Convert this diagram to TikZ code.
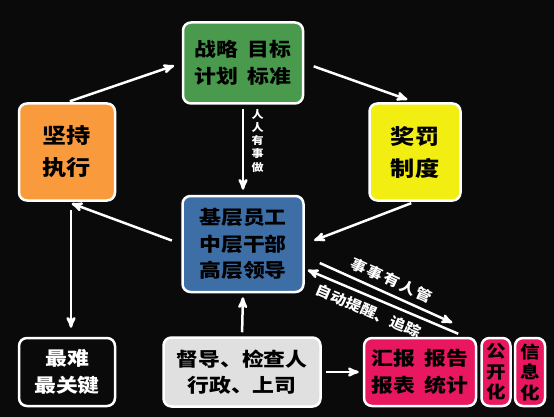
\documentclass[tikz,border=0pt]{standalone}
\usepackage{fontspec}
\usepackage{tikz}
\usetikzlibrary{arrows, positioning}
\newfontfamily\cjk{Noto Sans CJK SC}[FakeStretch=1.15]
\definecolor{bggray}{HTML}{0A0A0A}
\definecolor{boxgreen}{HTML}{4A9A4E}
\definecolor{boxorange}{HTML}{F99A3C}
\definecolor{boxyellow}{HTML}{F2EE12}
\definecolor{boxblue}{HTML}{3D6FA6}
\definecolor{boxpink}{HTML}{E8175F}
\definecolor{boxgrey}{HTML}{E0E0E0}
\tikzset{
		box/.style={draw=white, line width=2.5pt, rounded corners=8pt, align=center, inner sep=0pt, text=black},
		big text/.style={font=\cjk\bfseries\fontsize{21}{32}\selectfont},
		mid text/.style={font=\cjk\bfseries\fontsize{19}{26.5}\selectfont},
		slim text/.style={font=\cjk\bfseries\fontsize{17}{20.5}\selectfont},
		flow/.style={->, color=white, line width=2.5pt},
		flow label/.style={text=white, inner sep=1pt, font=\cjk\bfseries\fontsize{14}{16}\selectfont},
		tag label/.style={text=white, align=center, font=\cjk\bfseries\fontsize{10.5}{13.2}\selectfont}
	}
\begin{document}
\begin{tikzpicture}[x=1pt, y=-1pt, >=stealth']
				\fill[bggray] (0,0) rectangle (554,417);
				\useasboundingbox (0,0) rectangle (554,417);

				\node[box, fill=boxgreen, mid text, minimum width=120pt, minimum height=81pt]  (plan)  at (243,63)  {战略\enspace 目标\\计划\enspace 标准};
				\node[box, fill=boxorange, big text, minimum width=96pt, minimum height=97pt]  (keep)  at (67,152)  {坚持\\执行};
				\node[box, fill=boxyellow, big text, minimum width=91pt, minimum height=97pt]  (prize) at (415,152) {奖罚\\制度};
				\node[box, fill=boxblue, mid text, minimum width=121pt, minimum height=96pt]   (staff) at (243,244) {基层员工\\中层干部\\高层领导};
				\node[box, fill=bggray, text=white, mid text, minimum width=96pt, minimum height=68pt] (hard) at (67,372) {最难\\最关键};
				\node[box, fill=boxgrey, mid text, minimum width=157pt, minimum height=69pt]   (check) at (242,372) {督导、检查人\\行政、上司};
				\node[box, fill=boxpink, mid text, minimum width=112pt, minimum height=68pt]   (report) at (420,372) {汇报\enspace 报告\\报表\enspace 统计};
				\node[box, fill=boxpink, slim text, minimum width=29pt, minimum height=68pt, right=3pt of report] (open) {公\\开\\化};
				\node[box, fill=boxpink, slim text, minimum width=30pt, minimum height=68pt, right=2pt of open]   (info) {信\\息\\化};

				\coordinate (rs) at ([shift={(15,19)}]staff.east);
				\coordinate (re) at ([shift={(-25,-14)}]report.north east);
				\coordinate (as) at ([shift={(-19,-3)}]report.north east);
				\coordinate (ae) at ([shift={(3,26)}]staff.east);

				\path[flow, shorten <=3pt, shorten >=8pt] (keep.north) edge (plan.west);
				\path[flow, shorten <=10pt, shorten >=8pt] (plan.east) edge (prize.north);
				\path[flow, shorten <=4pt, shorten >=5pt] (plan.south) edge node[right=4pt, tag label, pos=0.4] {人\\人\\有\\事\\做} (staff.north);
				\path[flow, shorten <=4pt, shorten >=10pt] (prize.south) edge (staff.east);
				\path[flow, shorten <=10pt, shorten >=5pt] (staff.west) edge (keep.south);
				\path[flow, shorten <=8pt, shorten >=9pt] ([xshift=4pt]keep.south) edge ([xshift=4pt]hard.north);
				\path[flow, shorten <=4pt, shorten >=4pt] (check.north) edge (staff.south);
				\path[flow, shorten <=4pt, shorten >=4pt] (check.east) edge (report.west);
				\path[flow] (rs) edge node[sloped, above=5pt, flow label] {\addfontfeature{LetterSpace=12}事事有人管} (re);
				\path[flow] (as) edge node[sloped, below=5pt, flow label, pos=0.56] {自动提醒、追踪} (ae);
			\end{tikzpicture}
\end{document}
